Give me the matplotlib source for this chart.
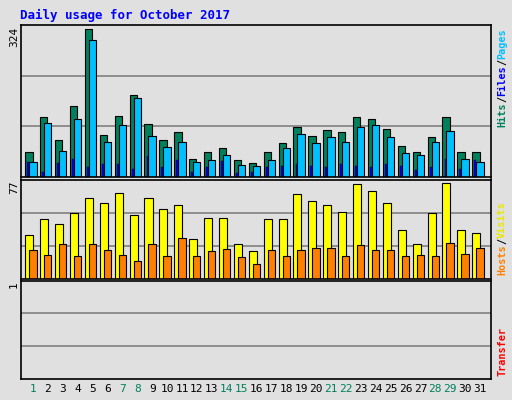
import matplotlib
matplotlib.use("Agg")
import matplotlib.pyplot as plt
import numpy as np

days = list(range(1, 32))
weekend = [1, 7, 8, 14, 15, 21, 22, 28, 29]
hits = [54,132,81,154,324,92,134,180,116,81,99,39,54,63,37,30,54,74,110,90,103,99,130,127,105,68,54,88,130,54,54]
files = [32,119,57,127,300,77,114,172,90,66,77,32,37,48,26,24,37,63,94,74,88,77,110,114,88,52,48,77,101,39,32]
pages = [32,12,30,39,21,28,28,17,46,21,37,12,21,35,8,10,21,24,28,24,21,28,24,21,28,24,15,21,39,17,37]
visits = [35,48,44,53,65,61,69,51,65,56,59,32,49,49,28,22,48,48,68,63,59,54,76,71,61,39,28,53,77,39,37]
hosts = [23,19,28,18,28,23,19,14,28,18,33,18,22,24,17,12,23,18,23,25,25,18,27,23,23,18,19,18,29,20,25]

W, H = 512, 400
bg = "#e0e0e0"
fig = plt.figure(figsize=(W/100, H/100), dpi=100, facecolor=bg)

def ax_px(x0, y0, x1, y1):
    return fig.add_axes([x0/W, 1-y1/H, (x1-x0)/W, (y1-y0)/H])

x = np.array(days, dtype=float)
xl = (0.16, 0.16+31.58)

def style(ax, ymax):
    ax.set_facecolor(bg)
    ax.set_xlim(*xl)
    ax.set_ylim(0, ymax)
    for g in (ymax/3, 2*ymax/3):
        ax.axhline(g, color="#808080", lw=1.2, zorder=0)
    ax.set_xticks([]); ax.set_yticks([])
    for s in ax.spines.values():
        s.set_color("black"); s.set_linewidth(1.2)

mono = "DejaVu Sans Mono"
ax1 = ax_px(20.5, 25, 491, 177)
style(ax1, 332)
ax1.bar(x-0.52, hits, width=0.49, align="edge", color="#00805c", edgecolor="black", lw=0.8)
ax1.bar(x-0.38, pages, width=0.13, align="edge", color="#0000ff", edgecolor="black", lw=0.3)
ax1.bar(x-0.25, files, width=0.49, align="edge", color="#00c0ff", edgecolor="black", lw=0.8)

ax2 = ax_px(20.5, 179.5, 491, 278.5)
style(ax2, 80)
ax2.bar(x-0.52, visits, width=0.54, align="edge", color="#ffff00", edgecolor="black", lw=0.8)
ax2.bar(x-0.25, hosts, width=0.49, align="edge", color="#ff8000", edgecolor="black", lw=0.8)

ax3 = ax_px(20.5, 280.5, 491, 379)
style(ax3, 1)

for d in days:
    c = "#00805c" if d in weekend else "black"
    fig.text((20.5 + (d - xl[0])*14.9)/W, 1-389/H, str(d), color=c, fontsize=8,
             ha="center", va="center", family=mono)

fig.text(20/W, 1-15/H, "Daily usage for October 2017", color="#0000ff", fontsize=9,
         fontweight="bold", family=mono, va="center")
fig.text(14/W, 1-37/H, "324", rotation=90, fontsize=8, family=mono, ha="center", va="center")
fig.text(14/W, 1-187/H, "77", rotation=90, fontsize=8, family=mono, ha="center", va="center")
fig.text(14/W, 1-285/H, "1", rotation=90, fontsize=8, family=mono, ha="center", va="center")

def vlabel(xp, ybottom, parts, step=6.2):
    y = ybottom
    for txt, col in parts:
        fig.text(xp/W, 1-y/H, txt, rotation=90, color=col, fontsize=7.3, fontweight="bold",
                 family=mono, ha="center", va="bottom")
        y -= len(txt)*step
vlabel(502, 127, [("Hits", "#00805c"), ("/", "black"), ("Files", "#0000ff"), ("/", "black"), ("Pages", "#00c0ff")])
vlabel(502, 275, [("Hosts", "#ff8000"), ("/", "black"), ("Visits", "#e8e800")])
vlabel(502, 376, [("Transfer", "#ff0000")])

fig.savefig("out.png", dpi=100, facecolor=bg)
